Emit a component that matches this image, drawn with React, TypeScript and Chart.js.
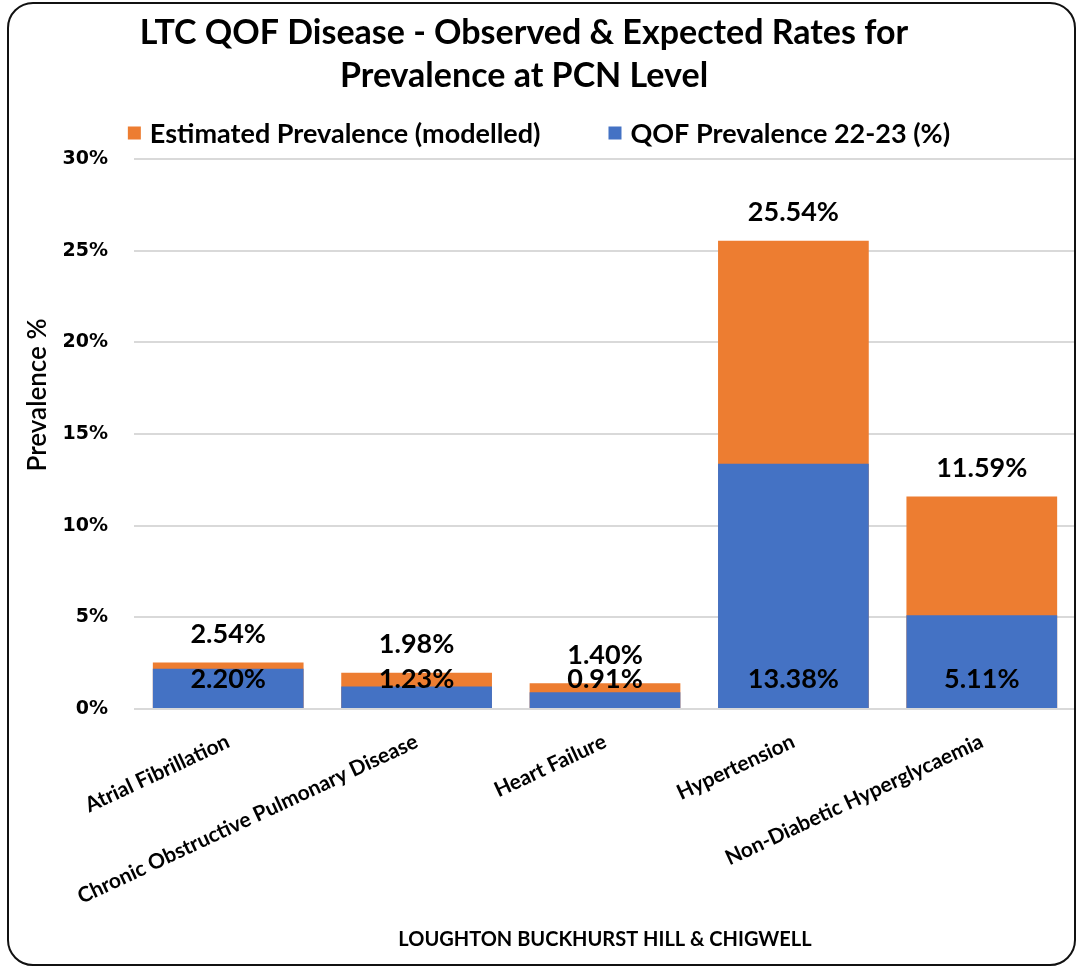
import React, { useEffect, useRef } from "react";
import { Chart, registerables } from "chart.js";

Chart.register(...registerables);

const categories = [
  "Atrial Fibrillation",
  "Chronic Obstructive Pulmonary Disease",
  "Heart Failure",
  "Hypertension",
  "Non-Diabetic Hyperglycaemia",
];
const estimatedPrevalence = [2.54, 1.98, 1.4, 25.54, 11.59];
const qofPrevalence = [2.2, 1.23, 0.91, 13.38, 5.11];
const seriesNames = ["Estimated Prevalence (modelled)", "QOF Prevalence 22-23 (%)"];
const yTickValues = [0, 5, 10, 15, 20, 25, 30];
const titleLines = ["LTC QOF Disease - Observed & Expected Rates for", "Prevalence at PCN Level"];
const xAxisTitle = "LOUGHTON BUCKHURST HILL & CHIGWELL";
const yAxisTitle = "Prevalence %";

const ORANGE = "#ED7D31";
const BLUE = "#4472C4";
const seriesColors = [ORANGE, BLUE];

const textPlugin = {
  id: "customText",
  afterDatasetsDraw(chart: any) {
    const ctx = chart.ctx;
    ctx.save();
    ctx.font = "bold 27px Lato";
    ctx.fillStyle = "#000";
    ctx.textAlign = "center";
    ctx.textBaseline = "middle";
    const est = chart.getDatasetMeta(0);
    const qof = chart.getDatasetMeta(1);
    est.data.forEach((bar: any, i: number) => {
      ctx.fillText(estimatedPrevalence[i].toFixed(2) + "%", bar.x, bar.y - 28);
    });
    qof.data.forEach((bar: any, i: number) => {
      ctx.fillText(qofPrevalence[i].toFixed(2) + "%", bar.x, bar.base - 29);
    });
    ctx.restore();
  },
  afterDraw(chart: any) {
    const ctx = chart.ctx;
    ctx.save();
    ctx.fillStyle = "#000";
    ctx.textAlign = "center";
    ctx.textBaseline = "middle";
    // main title
    ctx.font = "bold 34px Lato";
    ctx.fillText(titleLines[0], 524, 33);
    ctx.fillText(titleLines[1], 524, 76);

    // legend
    ctx.font = "bold 27px Lato";
    ctx.textAlign = "left";
    const box = 13;
    const boxGap = 9;
    const itemGap = 68;
    const widths = seriesNames.map((s) => ctx.measureText(s).width);
    const total = widths.reduce((a, w) => a + box + boxGap + w, 0) + itemGap * (seriesNames.length - 1);
    let x = 539 - total / 2;
    const ly = 133;
    seriesNames.forEach((name, i) => {
      ctx.fillStyle = seriesColors[i];
      ctx.fillRect(x, ly - box / 2, box, box);
      ctx.fillStyle = "#000";
      ctx.fillText(name, x + box + boxGap, ly + 1);
      x += box + boxGap + widths[i] + itemGap;
    });

    // y axis title
    ctx.textAlign = "center";
    ctx.translate(38, 395);
    ctx.rotate(-Math.PI / 2);
    ctx.font = "600 26px Lato";
    ctx.fillText(yAxisTitle, 0, 0);
    ctx.restore();
  },
};

export default function App() {
  const canvasRef = useRef<HTMLCanvasElement | null>(null);

  useEffect(() => {
    if (!canvasRef.current) return;
    const chart = new Chart(canvasRef.current, {
      type: "bar",
      data: {
        labels: categories,
        datasets: [
          {
            label: seriesNames[0],
            data: estimatedPrevalence,
            backgroundColor: ORANGE,
            grouped: false,
            order: 2,
            barPercentage: 0.8,
            categoryPercentage: 1.0,
          } as any,
          {
            label: seriesNames[1],
            data: qofPrevalence,
            backgroundColor: BLUE,
            grouped: false,
            order: 1,
            barPercentage: 0.8,
            categoryPercentage: 1.0,
          } as any,
        ],
      },
      options: {
        responsive: false,
        animation: false,
        layout: { padding: { top: 159, bottom: 10, left: 0, right: 0 } },
        plugins: {
          title: { display: false },
          tooltip: { enabled: false },
          legend: { display: false },
        },
        scales: {
          x: {
            grid: { display: false },
            border: { display: false },
            ticks: {
              autoSkip: false,
              maxRotation: 25,
              minRotation: 25,
              padding: 12,
              color: "#000",
              font: { family: "Lato", size: 21, weight: "bold" },
            },
            title: {
              display: true,
              text: xAxisTitle,
              color: "#000",
              font: { family: "Lato", size: 20, weight: "bold" },
            },
            afterFit(scale: any) {
              scale.height = 247;
            },
          },
          y: {
            min: 0,
            max: 30,
            afterBuildTicks(scale: any) {
              scale.ticks = yTickValues.map((v) => ({ value: v }));
            },
            grid: { color: "#D9D9D9", lineWidth: 2, drawTicks: false },
            border: { display: false },
            ticks: {
              padding: 26,
              color: "#000",
              font: { family: "DejaVu Sans", size: 19, weight: "bold" },
              callback: (v: any) => v + "%",
            },
            afterFit(scale: any) {
              scale.width = 134;
            },
          },
        },
      },
      plugins: [textPlugin],
    });
    return () => chart.destroy();
  }, []);

  return (
    <div style={{ position: "absolute", left: 0, top: 0, width: 1076, height: 966, background: "#fff", overflow: "hidden" }}>
      <canvas ref={canvasRef} width={1076} height={966} style={{ display: "block" }} />
      <div
        style={{
          position: "absolute",
          left: 7,
          top: 2,
          width: 1069,
          height: 964,
          boxSizing: "border-box",
          border: "2.5px solid #111",
          borderRadius: 26,
          pointerEvents: "none",
        }}
      />
    </div>
  );
}
